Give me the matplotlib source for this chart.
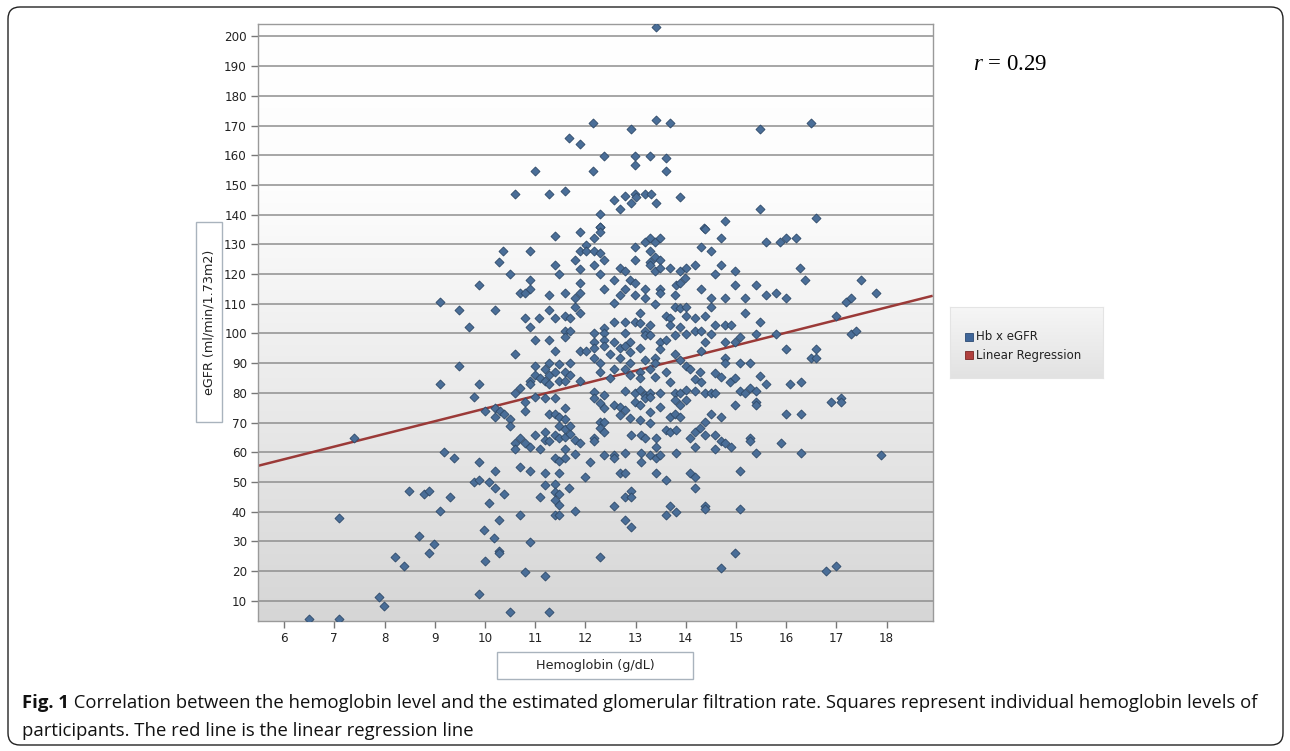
import numpy as np
import matplotlib
matplotlib.use("Agg")
import matplotlib.pyplot as plt
from matplotlib.patches import FancyBboxPatch, Rectangle
from matplotlib.colors import LinearSegmentedColormap
from matplotlib.transforms import IdentityTransform

# ---------------- data ----------------
hb_top = [12.16, 11.68, 11.90, 10.99, 12.16, 10.59, 11.28, 11.60, 13.40, 13.40,
          13.69, 12.91, 15.48, 16.50, 12.38, 12.99, 13.28, 13.60, 12.99, 13.60,
          12.58, 12.79, 12.99, 13.01, 13.19, 13.30, 12.91, 12.70, 13.40, 13.89,
          15.48, 12.29, 12.29, 14.36, 14.78, 16.59]
egfr_top = [170.8, 165.9, 163.9, 154.8, 154.8, 146.9, 146.9, 148.0, 203.1, 171.9,
            170.8, 168.9, 168.9, 170.8, 159.8, 159.8, 159.8, 159.1, 156.6, 154.8,
            144.9, 146.3, 147.0, 145.8, 147.0, 147.0, 143.8, 141.9, 143.8, 146.1,
            141.9, 140.1, 136.0, 135.4, 137.8, 138.9]

hb_left_mid = [11.40, 11.90, 10.37, 10.90, 10.29, 11.90, 12.02, 12.02, 11.80, 11.40,
               11.48, 11.90, 10.50, 10.90, 10.90, 9.89, 10.70, 10.80, 11.28, 11.60,
               11.90, 11.90, 11.80, 11.80, 11.90, 9.11, 9.49, 10.20, 11.28, 10.79,
               11.08, 11.40, 11.60, 11.70, 9.69, 10.90, 11.60, 11.70, 11.60, 11.00,
               11.28, 11.40, 11.90, 12.02, 10.59, 9.49, 11.00, 11.28, 11.48, 11.70,
               11.20, 11.00, 11.10, 11.28, 11.20, 11.40, 11.48, 11.60, 11.70, 11.60,
               10.90, 10.90, 11.28, 11.90, 9.11, 9.89, 10.70, 10.59, 9.79, 11.00,
               11.20, 11.40, 10.80, 10.80, 10.00, 10.20, 10.30, 10.20, 10.39, 10.50,
               11.60, 11.28, 11.40, 11.48, 11.60]
egfr_left_mid = [132.8, 134.1, 127.9, 127.9, 124.2, 127.9, 129.8, 127.9, 124.8, 123.0,
                 119.9, 121.8, 119.9, 118.1, 115.1, 116.2, 113.6, 113.6, 113.1, 113.7,
                 116.9, 113.7, 112.1, 109.0, 106.8, 110.7, 108.0, 108.0, 108.0, 105.1,
                 105.1, 105.1, 106.0, 105.1, 102.1, 102.1, 100.8, 100.8, 98.9, 97.8,
                 97.8, 94.1, 94.1, 94.1, 93.0, 89.1, 89.1, 90.2, 89.6, 90.2,
                 88.0, 86.0, 84.9, 86.0, 84.0, 86.9, 84.0, 86.9, 86.0, 84.0,
                 84.0, 83.0, 83.0, 84.0, 82.9, 82.9, 81.8, 79.9, 78.7, 78.7,
                 78.2, 78.2, 77.0, 74.0, 74.0, 75.0, 74.0, 72.0, 72.8, 71.2,
                 75.0, 72.8, 72.8, 72.0, 71.2]

hb_left_low = [7.39, 9.19, 9.39, 9.89, 10.20, 9.79, 9.89, 10.09, 10.20, 10.39,
               10.09, 8.49, 8.79, 8.89, 9.31, 9.11, 7.10, 10.29, 9.99, 8.69,
               10.19, 8.99, 8.89, 10.29, 10.29, 10.90, 8.21, 8.39, 10.00, 10.79,
               11.20, 7.89, 7.99, 9.89, 10.49, 11.28, 6.50, 7.10, 10.70, 10.90,
               11.20, 11.48, 11.99, 11.10, 11.20, 11.40, 11.40, 11.48, 11.40, 11.48,
               11.40, 11.48, 11.68, 11.80, 10.70, 10.50, 10.59, 10.59, 10.70, 10.79,
               10.90, 11.00, 11.10, 11.20, 11.20, 11.28, 11.40, 11.48, 11.60, 11.70,
               11.48, 11.60, 11.70, 11.80, 11.90, 11.60, 11.40, 11.48, 11.60, 11.80]
egfr_left_low = [64.7, 60.0, 58.0, 56.8, 53.8, 50.0, 50.7, 50.0, 48.1, 45.8,
                 42.8, 47.0, 45.9, 47.0, 45.0, 40.2, 37.8, 37.2, 34.0, 31.7,
                 31.0, 29.0, 26.0, 26.9, 26.0, 29.8, 24.9, 21.8, 23.3, 19.6,
                 18.4, 11.3, 8.3, 12.2, 6.2, 6.2, 4.0, 4.0, 55.2, 53.8,
                 53.1, 53.1, 51.8, 45.0, 48.9, 49.2, 46.7, 46.0, 43.9, 42.1,
                 38.9, 38.9, 48.1, 40.2, 38.9, 68.9, 63.0, 61.0, 64.9, 63.0,
                 61.9, 65.8, 61.0, 66.9, 64.0, 63.9, 65.8, 64.7, 65.0, 66.0,
                 69.0, 68.0, 69.0, 64.0, 63.0, 61.0, 58.0, 57.0, 58.0, 59.5]

hb_right_mid = [12.30, 12.30, 12.18, 14.39, 14.71, 13.19, 13.29, 13.39, 13.49, 15.60,
                15.88, 16.00, 16.20, 12.99, 13.29, 14.30, 14.50, 12.18, 12.30, 12.38,
                12.99, 13.29, 13.39, 13.49, 13.29, 12.18, 12.69, 12.79, 13.39, 13.49,
                13.69, 13.89, 14.01, 14.19, 14.71, 14.98, 16.28, 12.30, 12.58, 12.89,
                12.99, 13.99, 14.59, 16.38, 17.49, 12.38, 12.79, 12.69, 12.99, 13.19,
                13.19, 13.49, 13.49, 13.79, 13.81, 13.89, 14.30, 14.50, 14.79, 14.98,
                15.18, 15.40, 15.60, 15.80, 16.00, 17.79, 17.20, 17.29, 12.58, 13.39,
                13.79, 13.89, 14.01, 14.50, 13.09, 13.61, 13.69, 14.01, 14.19, 14.39,
                15.18, 17.00, 12.58, 12.79, 12.99, 13.09, 13.29, 13.69, 13.89, 14.59,
                14.79, 14.91, 15.48, 12.18, 12.38, 12.38, 12.79, 13.19, 13.19, 13.29,
                13.79, 14.01, 14.19, 14.30, 14.50, 15.40, 15.80, 17.29, 17.39, 12.18,
                12.38, 12.58, 12.89, 13.49, 13.61, 14.39, 14.79, 14.98, 15.08, 12.18,
                12.38, 12.49, 12.69, 12.79, 12.89, 13.09, 13.49, 14.30, 16.00, 16.59,
                12.18, 12.30, 12.69, 12.89, 13.19, 13.39, 13.39, 13.79, 13.89, 14.79,
                14.79, 15.08, 15.28, 16.49, 16.59, 12.30, 12.58, 12.79, 13.09, 13.29,
                13.61, 14.01, 14.09, 14.29, 14.59, 14.70, 12.49, 12.89, 13.09, 13.39,
                13.69, 14.19, 14.30, 14.89, 14.98, 15.48, 15.60, 16.08, 16.29, 12.18,
                12.38, 12.79, 12.99, 13.09, 13.19, 13.29, 13.49, 13.79, 13.89, 14.01,
                14.19, 14.39, 14.50, 14.59, 15.08, 15.18, 15.28, 15.40, 12.18, 12.30,
                12.58, 12.69, 12.79, 12.99, 13.09, 13.19, 13.29, 13.49, 13.79, 13.89,
                14.01, 14.98, 15.40, 15.40, 16.89, 17.09, 17.09, 12.38, 12.69, 12.89,
                13.09, 13.29, 13.69, 13.79, 13.89, 14.39, 14.50, 14.71, 16.00, 16.29]
egfr_right_mid = [136.0, 134.1, 132.0, 135.2, 132.0, 130.9, 132.0, 130.9, 132.0, 130.9,
                  130.9, 132.0, 132.0, 129.0, 127.9, 129.0, 127.9, 127.9, 127.0, 124.9,
                  124.9, 124.2, 125.9, 124.9, 123.1, 123.0, 121.9, 121.2, 121.2, 121.9,
                  121.9, 121.2, 121.9, 123.0, 123.0, 121.2, 121.9, 119.9, 118.1, 118.1,
                  116.9, 118.8, 119.9, 118.1, 118.1, 115.1, 115.1, 112.9, 112.9, 115.1,
                  112.1, 115.1, 113.7, 112.9, 116.3, 116.9, 115.1, 112.1, 112.1, 116.2,
                  112.1, 116.2, 112.9, 113.7, 112.1, 113.7, 110.7, 112.1, 110.1, 110.0,
                  109.0, 108.5, 109.0, 109.0, 106.9, 106.0, 105.1, 106.0, 105.1, 106.0,
                  106.9, 106.0, 104.0, 104.0, 104.0, 103.4, 102.9, 102.9, 102.1, 102.9,
                  102.9, 102.9, 104.0, 100.0, 101.7, 100.0, 100.0, 100.8, 99.5, 99.5,
                  99.5, 99.7, 100.8, 100.8, 99.7, 99.7, 99.7, 99.7, 100.8, 97.0,
                  97.8, 97.0, 97.0, 97.0, 97.8, 97.0, 97.0, 97.0, 98.9, 95.0,
                  95.9, 93.0, 95.0, 95.9, 93.9, 95.0, 94.8, 94.1, 94.8, 94.8,
                  91.9, 89.9, 91.9, 89.9, 91.1, 91.9, 89.9, 93.0, 91.1, 91.9,
                  89.9, 89.9, 89.9, 91.9, 91.9, 87.1, 88.0, 88.0, 87.1, 88.0,
                  87.1, 89.2, 88.0, 87.1, 86.6, 85.5, 84.9, 86.0, 84.9, 85.5,
                  83.8, 84.7, 83.8, 83.8, 84.9, 85.8, 82.9, 82.9, 83.8, 80.4,
                  79.3, 80.8, 79.9, 81.0, 79.3, 79.9, 79.9, 79.9, 79.9, 81.0,
                  80.8, 79.9, 79.9, 79.9, 80.8, 79.9, 81.8, 80.8, 78.2, 76.5,
                  75.9, 75.4, 74.2, 77.0, 75.9, 78.2, 78.7, 75.4, 77.6, 75.9,
                  77.6, 75.9, 77.0, 75.9, 77.0, 78.2, 76.8, 75.0, 72.5, 71.7,
                  70.9, 73.7, 72.0, 72.8, 72.0, 70.3, 72.8, 72.0, 72.8, 72.8]

hb_right_low = [12.30, 12.38, 13.29, 12.30, 12.38, 12.18, 12.18, 12.91, 13.10, 13.19,
                13.40, 13.40, 13.60, 13.69, 13.81, 14.09, 14.19, 14.29, 14.39, 14.19,
                14.59, 14.71, 14.79, 14.91, 14.59, 15.28, 15.28, 15.89, 15.40, 16.29,
                17.89, 12.10, 12.38, 12.58, 12.58, 12.79, 13.10, 13.10, 13.29, 13.40,
                13.49, 13.81, 12.69, 12.79, 13.40, 13.60, 14.09, 14.19, 15.08, 14.19,
                12.91, 12.79, 12.91, 12.58, 13.69, 13.60, 13.81, 14.39, 14.39, 15.08,
                12.79, 12.91, 12.30, 14.99, 14.71, 16.79, 17.00]
egfr_right_low = [70.3, 70.3, 70.0, 68.1, 67.0, 64.7, 63.9, 65.9, 65.9, 64.9,
                  64.9, 61.9, 67.5, 67.0, 67.5, 64.9, 67.0, 68.1, 65.9, 61.9,
                  65.9, 63.9, 63.0, 61.9, 61.0, 64.7, 63.9, 63.0, 59.9, 59.9,
                  59.1, 56.8, 59.1, 59.1, 58.0, 59.9, 59.9, 56.9, 59.1, 58.0,
                  59.1, 59.9, 52.9, 52.9, 52.9, 50.7, 52.9, 51.8, 53.8, 48.1,
                  47.0, 45.1, 44.8, 42.0, 42.0, 38.9, 40.0, 42.0, 40.8, 40.8,
                  37.2, 34.7, 24.9, 26.0, 21.2, 20.0, 21.8]

reg_intercept = 32.1   # eGFR at Hb = 0 of the drawn regression line
reg_slope = 4.26       # eGFR per g/dL

x_ticks = list(range(6, 19))
y_ticks = list(range(10, 201, 10))
series_names = ["Hb x eGFR", "Linear Regression"]
x_label = "Hemoglobin (g/dL)"
y_label = "eGFR (ml/min/1.73m2)"
r_value = "0.29"
caption_bold = "Fig. 1"
caption_line1 = (" Correlation between the hemoglobin level and the estimated glomerular "
                 "filtration rate. Squares represent individual hemoglobin levels of")
caption_line2 = "participants. The red line is the linear regression line"

hb = hb_top + hb_left_mid + hb_left_low + hb_right_mid + hb_right_low
egfr = egfr_top + egfr_left_mid + egfr_left_low + egfr_right_mid + egfr_right_low

# ---------------- figure ----------------
plt.rcParams['mathtext.fontset'] = 'custom'
plt.rcParams['mathtext.it'] = 'Liberation Serif:italic'
plt.rcParams['mathtext.rm'] = 'Liberation Serif'

W, H = 1290, 751
fig = plt.figure(figsize=(W / 100, H / 100), dpi=100)
fig.patch.set_facecolor('white')


def fx(px):
    return px / W


def fy(py):
    return 1 - py / H


# outer rounded border
border = FancyBboxPatch((8, 6), 1275, 738, boxstyle='round,pad=0,rounding_size=12',
                        transform=IdentityTransform(), fc='none', ec='#222222', lw=1.0)
fig.patches.append(border)

ax_l, ax_r, ax_t, ax_b = 258, 932.7, 24.3, 621
ax = fig.add_axes([fx(ax_l), fy(ax_b), fx(ax_r - ax_l), (ax_b - ax_t) / H])
ax.set_facecolor('white')

# background gradient
cmap_bg = LinearSegmentedColormap.from_list(
    'bg', [(0.0, '#ffffff'), (0.28, '#fdfdfd'), (1.0, '#d6d6d6')])
grad = np.linspace(0, 1, 256).reshape(-1, 1)
ax.imshow(grad, extent=[0, 1, 0, 1], transform=ax.transAxes, aspect='auto',
          cmap=cmap_bg, origin='upper', zorder=0, interpolation='bilinear')

ax.set_xlim(5.48, 18.92)
ax.set_ylim(3.2, 204.1)
ax.set_xticks(x_ticks)
ax.set_yticks(y_ticks)
ax.yaxis.grid(True, color='#8f8f8f', linewidth=1.1)
ax.xaxis.grid(False)
ax.set_axisbelow(True)
for sp in ax.spines.values():
    sp.set_color('#9a9a9a')
    sp.set_linewidth(1.0)
ax.tick_params(axis='both', direction='out', length=5, width=1, color='#777777',
               labelsize=8.6, labelcolor='#222222', pad=3)

# regression line
xl = np.array(ax.get_xlim())
ax.plot(xl, reg_intercept + reg_slope * xl, color='#9b3a38', lw=1.8, zorder=2.5,
        solid_capstyle='butt')

# scatter points
ax.scatter(hb, egfr, marker='D', s=21, facecolor='#4a6e98', edgecolor='#2e4968',
           linewidths=0.6, zorder=3)
ax.set_xlim(5.48, 18.92)
ax.set_ylim(3.2, 204.1)

# axis title boxes
fig.patches.append(Rectangle((fx(196), fy(422)), fx(26), 200 / H, transform=fig.transFigure,
                             fc='white', ec='#a9b3bd', lw=1.0))
fig.text(fx(209.5), fy(322), y_label, rotation=90, ha='center', va='center',
         fontsize=9.2, color='#222222')
fig.patches.append(Rectangle((fx(497), fy(679)), fx(196), 27 / H, transform=fig.transFigure,
                             fc='white', ec='#a9b3bd', lw=1.0))
fig.text(fx(595), fy(665.5), x_label, ha='center', va='center', fontsize=9.2, color='#222222')

# legend box
lax = fig.add_axes([fx(950), fy(378), fx(153), 71 / H])
cmap_lg = LinearSegmentedColormap.from_list('lg', ['#f6f6f6', '#e2e2e2'])
lax.imshow(grad, extent=[0, 1, 0, 1], aspect='auto', cmap=cmap_lg, origin='upper',
           interpolation='bilinear')
lax.set_xlim(0, 1)
lax.set_ylim(0, 1)
lax.set_xticks([])
lax.set_yticks([])
for sp in lax.spines.values():
    sp.set_color('#e4e4e4')
legend_colors = [('#3f6699', '#2c4a72'), ('#b0403e', '#7a2624')]
for i, name in enumerate(series_names):
    yy = 1 - (337 + 18 * i - 307) / 71
    lax.plot([(969 - 950) / 153], [yy], marker='s', ms=5.2, mfc=legend_colors[i][0],
             mec=legend_colors[i][1], mew=0.6, ls='none')
    lax.text((976 - 950) / 153, yy, name, ha='left', va='center', fontsize=8.5,
             color='#222222')

# r annotation
fig.text(fx(973), fy(64), r'$r$ = ' + r_value, fontfamily='Liberation Serif',
         fontsize=16.5, ha='left', va='center', color='black')

# caption
cap_fs = 13.3
cap_y1 = fy(703)
t1 = fig.text(fx(22), cap_y1, caption_bold, fontfamily='Open Sans', fontweight='bold',
              fontsize=cap_fs, ha='left', va='center', color='#111111')
fig.canvas.draw()
bb = t1.get_window_extent()
fig.text(bb.x1 / W, cap_y1, caption_line1, fontfamily='Open Sans', fontsize=cap_fs,
         ha='left', va='center', color='#111111')
fig.text(fx(22), fy(731), caption_line2, fontfamily='Open Sans', fontsize=cap_fs,
         ha='left', va='center', color='#111111')

fig.savefig('out.png', dpi=100)
